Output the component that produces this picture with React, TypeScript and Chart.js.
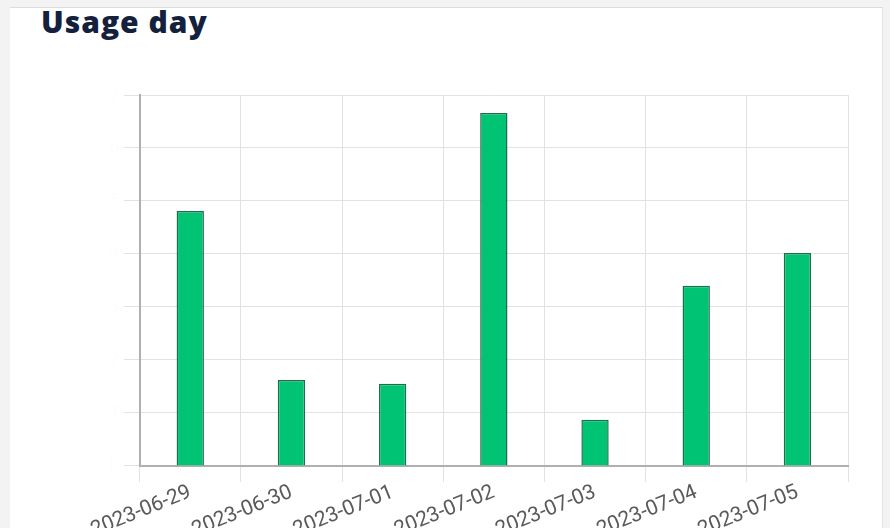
import React, { useEffect, useRef } from "react";
import { Chart, registerables } from "chart.js";

Chart.register(...registerables);

const categories = [
  "2023-06-29",
  "2023-06-30",
  "2023-07-01",
  "2023-07-02",
  "2023-07-03",
  "2023-07-04",
  "2023-07-05",
];
const usage = [4.81, 1.62, 1.55, 6.66, 0.87, 3.4, 4.02];
const yTicks = [0, 1, 2, 3, 4, 5, 6, 7];

export default function App() {
  const ref = useRef<HTMLCanvasElement | null>(null);

  useEffect(() => {
    document.body.style.margin = "0";
    document.body.style.background = "#f3f3f3";
    document.body.style.overflow = "hidden";
    const ctx = ref.current!;
    const chart = new Chart(ctx, {
      type: "bar",
      data: {
        labels: categories,
        datasets: [
          {
            label: "Usage",
            data: usage,
            backgroundColor: "#00c474",
            borderColor: "#1d6f4b",
            borderWidth: 1.5,
            barPercentage: 0.3,
            categoryPercentage: 0.9,
          },
        ],
      },
      options: {
        animation: false,
        responsive: false,
        maintainAspectRatio: false,
        layout: { padding: { left: 105, right: 42, top: 95, bottom: 21 } },
        plugins: { legend: { display: false }, tooltip: { enabled: false } },
        scales: {
          x: {
            offset: true,
            grid: {
              offset: true,
              color: "#e2e2e2",
              lineWidth: 1,
              tickLength: 16,
            },
            border: { color: "#b0b0b0", width: 2 },
            ticks: {
              color: "#5a5a5a",
              font: { family: "Roboto", size: 21 },
              minRotation: 22,
              maxRotation: 22,
              padding: -2,
            },
          },
          y: {
            min: yTicks[0],
            max: yTicks[yTicks.length - 1],
            grid: { color: "#e2e2e2", lineWidth: 1, tickLength: 16 },
            border: { color: "#b0b0b0", width: 2 },
            afterBuildTicks: (axis: any) => {
              axis.ticks = yTicks.map((v) => ({ value: v }));
            },
            ticks: {
              color: "#fdfdfd",
              font: { family: "Roboto", size: 19 },
              padding: 4,
            },
          },
        },
      },
    });
    return () => chart.destroy();
  }, []);

  return (
    <div style={{ position: "relative", width: 890, height: 528, overflow: "hidden", background: "#f3f3f3" }}>
      <div
        style={{
          position: "absolute",
          left: 10,
          top: 7,
          width: 872,
          height: 540,
          background: "#ffffff",
          borderTop: "1.5px solid #dcdcdc",
          borderRight: "1.5px solid #e4e4e4",
        }}
      />
      <div
        style={{
          position: "absolute",
          left: 41,
          top: 1,
          fontFamily: "'Open Sans', sans-serif",
          fontWeight: 800,
          fontSize: 30,
          color: "#14213d",
          letterSpacing: 1,
        }}
      >
        Usage day
      </div>
      <canvas
        ref={ref}
        width={890}
        height={562}
        style={{ position: "absolute", left: 0, top: 0, width: 890, height: 562 }}
      />
    </div>
  );
}
